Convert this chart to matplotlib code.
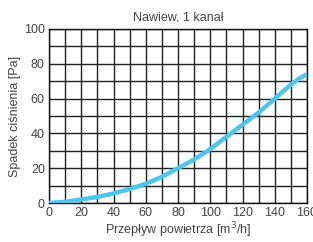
import matplotlib
matplotlib.use("Agg")
import matplotlib.pyplot as plt
import numpy as np

flow = [0, 10, 20, 30, 40, 50, 60, 70, 80, 90, 100, 110, 120, 130, 140, 150, 155, 160]
drop = [0, 0.7, 2, 3.5, 5.5, 8, 11, 15, 20, 25, 31, 38, 45, 52, 60, 68, 71.5, 74]
x_ticks = [0, 20, 40, 60, 80, 100, 120, 140, 160]
y_ticks = [0, 20, 40, 60, 80, 100]

plt.rcParams['font.family'] = ['Liberation Sans', 'DejaVu Sans']
fig = plt.figure(figsize=(3.13, 2.42), dpi=100)
ax = fig.add_axes([49/313, 1 - 203/242, 258/313, 174/242])

ax.plot(flow, drop, color='#4cc6f0', lw=3.2, solid_capstyle='round', zorder=3)
ax.set_xlim(0, 160)
ax.set_ylim(0, 100)
ax.set_xticks(np.arange(0, 161, 10), minor=False)
ax.set_yticks(np.arange(0, 101, 10))
ax.grid(True, color='#222222', lw=1.0)
ax.set_xticklabels([str(v) if v in x_ticks else '' for v in range(0, 161, 10)])
ax.set_yticklabels([str(v) if v in y_ticks else '' for v in range(0, 101, 10)])
ax.tick_params(length=0, labelsize=9, colors='#444444', pad=3)
for s in ax.spines.values():
    s.set_color('#111111')
    s.set_linewidth(1.0)
ax.set_title('Nawiew, 1 kanał', fontsize=9, color='#444444', pad=6)
ax.set_xlabel('Przepływ powietrza [m$^3$/h]', fontsize=9, color='#444444', labelpad=1)
ax.set_ylabel('Spadek ciśnienia [Pa]', fontsize=9, color='#444444', labelpad=2)
fig.savefig('out.png', dpi=100)
